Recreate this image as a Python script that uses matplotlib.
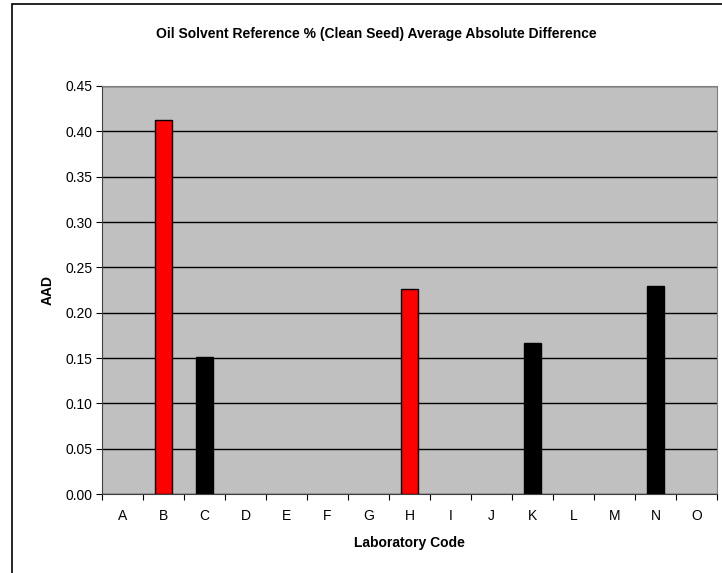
import matplotlib
matplotlib.use("Agg")
import matplotlib.pyplot as plt
from matplotlib.patches import Rectangle

plt.rcParams['font.family'] = ['Liberation Sans', 'DejaVu Sans']

# データ
labs = ["A", "B", "C", "D", "E", "F", "G", "H", "I", "J", "K", "L", "M", "N", "O"]
aad = [0, 0.413, 0.151, 0, 0, 0, 0, 0.226, 0, 0, 0.166, 0, 0, 0.229, 0]
colors = ["black", "red", "black", "black", "black", "black", "black", "red",
          "black", "black", "black", "black", "black", "black", "black"]
yticks = [0.00, 0.05, 0.10, 0.15, 0.20, 0.25, 0.30, 0.35, 0.40, 0.45]

fig = plt.figure(figsize=(7.22, 5.73), dpi=100)
# 外枠(右と下は画像の外)
fig.patches.append(Rectangle((12 / 722, -0.05), 1.1, 1.05 - 4 / 573, transform=fig.transFigure,
                             fill=False, edgecolor="black", linewidth=1.2))

ax = fig.add_axes([102 / 722, 1 - 494 / 573, 615 / 722, 408 / 573])
ax.set_facecolor("#C0C0C0")

x = list(range(len(labs)))
lw = [1 if v > 0 else 0 for v in aad]
ax.bar(x, aad, width=0.4, color=colors, edgecolor="black", linewidth=lw, zorder=3)

ax.set_xlim(-0.5, len(labs) - 0.5)
ax.set_ylim(0, 0.45)
ax.set_yticks(yticks)
ax.set_yticklabels(["%.2f" % v for v in yticks], fontsize=10)
ax.yaxis.grid(True, color="black", linewidth=1, zorder=1)

# 目盛りはカテゴリの境目、ラベルは中央
ax.set_xticks([i - 0.5 for i in range(len(labs) + 1)])
ax.set_xticklabels([])
ax.set_xticks(x, minor=True)
ax.set_xticklabels(labs, minor=True, fontsize=10)
ax.tick_params(axis="x", which="minor", length=0, pad=11)
ax.tick_params(axis="x", which="major", length=4, direction="out")
ax.tick_params(axis="y", length=4, direction="out", pad=3)

for s in ["top", "right"]:
    ax.spines[s].set_color("#808080")
ax.spines["left"].set_color("#404040")
ax.spines["bottom"].set_color("#404040")

fig.text(376 / 722, 1 - 34 / 573, "Oil Solvent Reference % (Clean Seed) Average Absolute Difference",
         ha="center", va="center", fontsize=10, fontweight="bold")
ax.set_xlabel("Laboratory Code", fontsize=10, fontweight="bold")
ax.xaxis.set_label_coords(0.5, -(536 - 494) / 408)
ax.set_ylabel("AAD", fontsize=10, fontweight="bold")
ax.yaxis.set_label_coords(-(102 - 55) / 615, 0.5)

fig.savefig("out.png", dpi=100)
